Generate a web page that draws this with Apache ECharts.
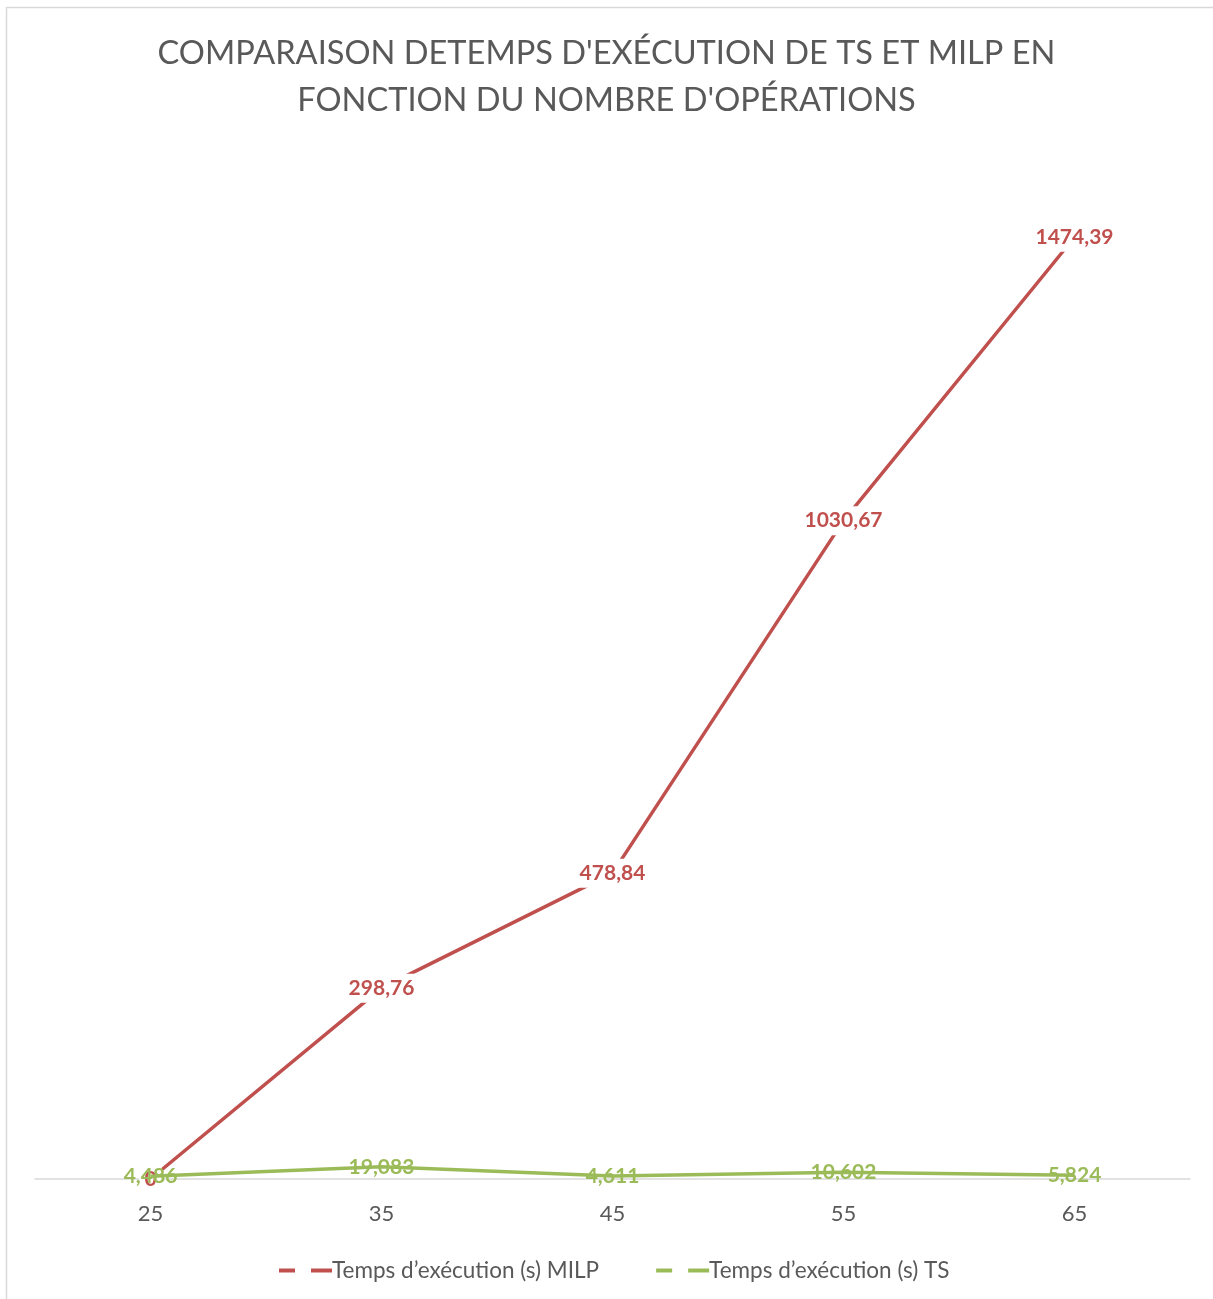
<!DOCTYPE html>
<html>
<head>
<meta charset="utf-8">
<script src="https://cdn.jsdelivr.net/npm/echarts@6/dist/echarts.min.js"></script>
<style>
html,body{margin:0;padding:0;background:#fff;}
#c{width:1213px;height:1299px;}
</style>
</head>
<body>
<div id="c"></div>
<script>
const categories = ['25', '35', '45', '55', '65'];
const milpValues = [0, 298.76, 478.84, 1030.67, 1474.39];
const tsValues = [4.486, 19.083, 4.611, 10.602, 5.824];
const seriesNames = ['Temps d\u2019exécution (s) MILP', 'Temps d\u2019exécution (s) TS'];
const titleText = "COMPARAISON DETEMPS D'EXÉCUTION DE TS ET MILP EN\nFONCTION DU NOMBRE D'OPÉRATIONS";

const fmt = v => String(v).replace('.', ',');
const font = 'Lato';
const chart = echarts.init(document.getElementById('c'));
const dashIcon = 'path://M0,0 h16 v4 h-16 z M32,0 h21 v4 h-21 z';
chart.setOption({
  animation: false,
  backgroundColor: '#fff',
  graphic: [{
    type: 'rect', z: -10,
    shape: { x: 6.5, y: 7.5, width: 1300, height: 1400 },
    style: { fill: 'none', stroke: '#d9d9d9', lineWidth: 1.5 }
  }],
  title: {
    text: titleText,
    left: 'center', top: 25,
    textStyle: { fontFamily: font, fontWeight: 'normal', fontSize: 32.6, color: '#595959', lineHeight: 47 }
  },
  legend: {
    top: 1254, left: 274,
    itemGap: 57,
    icon: dashIcon, itemWidth: 53, itemHeight: 4,
    textStyle: { fontFamily: font, fontSize: 22.5, color: '#595959', padding: [0, 0, 0, -5] },
    data: seriesNames
  },
  grid: { left: 35, right: 23, top: 157, bottom: 120, containLabel: false },
  xAxis: {
    type: 'category', data: categories, boundaryGap: true,
    axisLine: { lineStyle: { color: '#d9d9d9', width: 1.5 } },
    axisTick: { show: false },
    axisLabel: { fontFamily: font, fontSize: 22, color: '#595959', margin: 24 }
  },
  yAxis: {
    type: 'value', min: 0, max: 1600, interval: 200,
    show: false, splitLine: { show: false }
  },
  series: [
    {
      name: seriesNames[0], type: 'line', data: milpValues,
      symbol: 'circle', symbolSize: 0.01, showSymbol: true,
      lineStyle: { color: '#C0504D', width: 3.5 },
      itemStyle: { color: '#C0504D' },
      label: {
        show: true, position: 'inside', formatter: p => fmt(p.value),
        fontFamily: font, fontWeight: 'bold', fontSize: 21, color: '#C0504D',
        backgroundColor: '#fff', padding: [4, 5]
      },
      z: 2
    },
    {
      name: seriesNames[1], type: 'line', data: tsValues,
      symbol: 'circle', symbolSize: 0.01, showSymbol: true,
      lineStyle: { color: '#9BBB59', width: 3.5 },
      itemStyle: { color: '#9BBB59' },
      label: {
        show: true, position: 'inside', formatter: p => fmt(p.value),
        fontFamily: font, fontWeight: 'bold', fontSize: 21, color: '#9BBB59'
      },
      z: 3
    }
  ]
});
</script>
</body>
</html>
